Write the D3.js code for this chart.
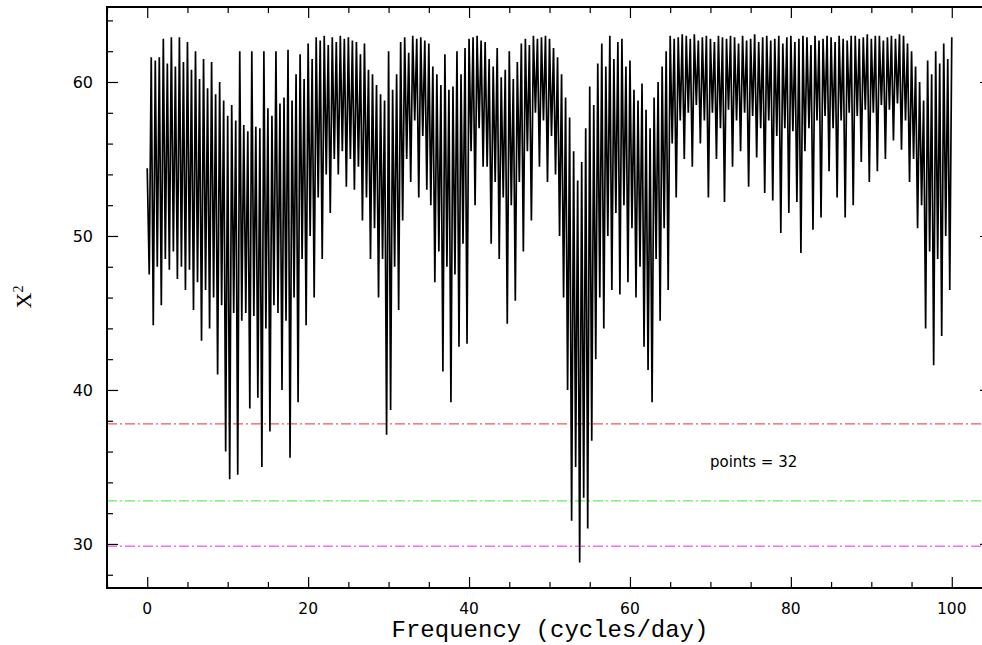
<!DOCTYPE html>
<html><head><meta charset="utf-8">
<script src="https://cdn.jsdelivr.net/npm/d3@7"></script>
<style>body{margin:0;background:#fff}svg{display:block}</style>
</head><body>
<script>
// Frequency grid start/step (cycles/day) and chi-square values
const freqStart = 0, freqStep = 0.25;
const chi2 = [
54.4,47.5,61.6,44.2, 61.4,48.0,61.6,45.5, 62.8,48.5,61.2,47.8, 62.9,49.0,61.0,47.2, 62.9,48.0,61.3,46.5,
62.6,47.8,60.8,45.2, 62.0,47.0,60.2,43.2, 61.5,46.5,59.6,44.0, 61.3,46.0,59.2,41.0, 60.0,45.5,58.8,36.0,
57.8,34.2,58.5,45.0, 57.5,34.5,62.0,44.5, 57.2,45.0,56.8,38.8, 62.0,44.8,57.1,39.5, 57.0,35.0,62.0,44.0,
58.3,37.3,57.8,45.5, 62.0,45.0,58.6,40.0, 59.0,44.5,62.1,35.6, 58.8,46.0,60.5,39.2, 61.8,48.5,60.2,44.2,
62.5,50.0,61.5,46.0, 62.9,52.5,62.7,48.5, 63.0,54.0,62.4,51.5, 62.9,55.0,62.6,54.0, 63.0,55.5,62.8,53.2,
62.9,55.0,62.7,53.0, 62.6,54.5,61.8,51.0, 62.5,52.5,60.8,48.5, 60.5,50.5,59.8,46.0, 59.2,48.5,58.8,37.1,
62.0,38.7,59.5,48.0, 60.5,45.2,62.6,51.0, 62.9,55.0,61.9,53.5, 63.0,57.5,62.8,52.5, 62.9,56.5,62.7,53.0,
62.5,52.0,61.0,47.0, 60.5,49.0,59.8,41.2, 61.8,48.0,59.5,39.2, 59.7,47.5,62.0,42.8, 60.5,49.5,62.2,43.0,
62.8,55.5,62.9,52.0, 63.0,57.0,62.7,54.5, 62.6,54.5,61.5,49.5, 61.0,53.5,62.2,48.5, 60.3,52.5,60.8,44.3,
62.0,52.0,60.2,45.8, 61.3,53.5,62.5,49.0, 62.8,55.5,62.4,51.0, 63.0,58.0,62.8,54.5, 62.9,57.5,63.0,53.5,
62.8,56.5,62.2,54.0, 61.6,50.0,60.5,46.0, 59.0,40.0,57.7,31.5, 55.5,35.0,53.6,28.8, 54.8,33.0,57.0,31.0,
59.7,36.7,58.5,42.0, 61.2,46.0,62.5,44.0, 61.0,50.0,63.0,46.5, 61.5,51.5,62.6,46.2, 62.8,52.0,61.0,47.0,
61.4,50.5,59.5,46.0, 58.8,48.0,59.9,42.8, 58.2,41.3,57.0,39.2, 59.0,48.5,60.0,44.5, 61.0,50.5,62.0,46.5,
63.0,56.0,62.8,52.5, 62.9,57.5,63.1,55.0, 63.0,58.0,62.8,54.5, 63.1,58.5,62.7,56.0, 62.9,57.5,63.0,52.5,
62.8,58.0,62.6,55.0, 63.0,57.0,62.9,52.2, 62.8,58.2,63.0,54.5, 62.9,57.5,62.5,55.5, 63.0,58.0,62.7,53.2,
62.8,57.8,63.1,55.1, 62.6,57.0,62.9,52.8, 63.0,57.5,62.7,52.3, 62.8,56.5,63.0,50.2, 62.5,57.0,62.9,51.5,
63.0,56.8,62.6,52.2, 62.8,48.9,63.0,55.5, 62.9,57.0,62.4,50.4, 63.0,57.5,62.7,51.2, 62.8,57.8,63.0,54.2,
62.9,57.0,62.6,52.5, 63.0,57.5,62.8,51.2, 62.7,58.0,63.0,52.0, 63.0,57.8,62.8,54.8, 62.9,58.2,63.1,53.5,
62.8,58.0,63.0,54.2, 63.0,58.5,62.7,55.0, 62.9,58.2,63.0,56.2, 62.8,58.6,63.1,55.6, 63.0,57.5,62.5,53.5,
62.0,55.0,61.0,50.5, 60.0,52.0,58.8,44.0, 61.4,49.0,60.5,41.6, 62.0,48.5,61.2,43.5, 62.5,50.0,61.5,46.5,
62.9
];
// Significance threshold levels (red, green, magenta)
const thresholds = [37.8, 32.8, 29.85];
const thresholdColors = ["#f05858", "#60f060", "#f070f0"];
const xTicksMajor = [0, 20, 40, 60, 80, 100];
const yTicksMajor = [30, 40, 50, 60];
const xLabel = "Frequency (cycles/day)";
const note = "points = 32";

const W = 982, H = 645;
const x = d3.scaleLinear().domain([-5, 105]).range([107, 992]);
const y = d3.scaleLinear().domain([27.14, 64.87]).range([588, 7]);
const data = chi2.map((v, i) => ({f: freqStart + i * freqStep, v}));

const svg = d3.select("body").append("svg").attr("width", W).attr("height", H);
const sans = "DejaVu Sans, Verdana, sans-serif";

// threshold lines
svg.selectAll("line.thr").data(thresholds).join("line").attr("class", "thr")
  .attr("x1", 107).attr("x2", W).attr("y1", d => y(d)).attr("y2", d => y(d))
  .attr("stroke", (d, i) => thresholdColors[i]).attr("stroke-width", 1.3)
  .attr("stroke-dasharray", "10,3,2,3");

// curve
svg.append("path").datum(data)
  .attr("d", d3.line().x(d => x(d.f)).y(d => y(d.v)))
  .attr("fill", "none").attr("stroke", "#000").attr("stroke-width", 1.7)
  .attr("stroke-linejoin", "miter").attr("stroke-miterlimit", 2);

// frame
const frame = svg.append("g").attr("stroke", "#000").attr("stroke-width", 2);
frame.append("line").attr("x1", 107).attr("x2", 107).attr("y1", 7).attr("y2", 588);
frame.append("line").attr("x1", 106).attr("x2", W).attr("y1", 7).attr("y2", 7);
frame.append("line").attr("x1", 106).attr("x2", W).attr("y1", 588).attr("y2", 588);
frame.append("line").attr("x1", 991).attr("x2", 991).attr("y1", 7).attr("y2", 588);

// ticks (inward) via d3 axes
const xMinor = d3.range(-5, 106, 5);
const yMinor = d3.range(28, 65, 2);
function tickLen(isMajor) { return isMajor ? 11 : 6; }
const xb = svg.append("g").attr("transform", "translate(0,588)")
  .call(d3.axisTop(x).tickValues(xMinor).tickSize(6).tickFormat(""));
const xt = svg.append("g").attr("transform", "translate(0,7)")
  .call(d3.axisBottom(x).tickValues(xMinor).tickSize(6).tickFormat(""));
const yl = svg.append("g").attr("transform", "translate(107,0)")
  .call(d3.axisRight(y).tickValues(yMinor).tickSize(6).tickFormat(""));
const yr = svg.append("g").attr("transform", "translate(991,0)")
  .call(d3.axisLeft(y).tickValues(yMinor).tickSize(6).tickFormat(""));
[xb, xt, yl, yr].forEach(g => { g.select(".domain").remove(); g.selectAll("line").attr("stroke", "#000").attr("stroke-width", 1.2); });
xb.selectAll(".tick line").attr("y2", d => -tickLen(d % 20 === 0));
xt.selectAll(".tick line").attr("y2", d => tickLen(d % 20 === 0));
yl.selectAll(".tick line").attr("x2", d => tickLen(d % 10 === 0));
yr.selectAll(".tick line").attr("x2", d => -tickLen(d % 10 === 0));

// tick labels
svg.selectAll("text.xl").data(xTicksMajor).join("text").attr("class", "xl")
  .attr("x", d => x(d)).attr("y", 614).attr("text-anchor", "middle")
  .attr("font-family", sans).attr("font-size", 15.5)
  .text(d => d);
svg.selectAll("text.yl").data(yTicksMajor).join("text").attr("class", "yl")
  .attr("x", 93).attr("y", d => y(d) + 6).attr("text-anchor", "end")
  .attr("font-family", sans).attr("font-size", 16)
  .text(d => d);

// axis titles
svg.append("text").attr("x", 550).attr("y", 637).attr("text-anchor", "middle")
  .attr("font-family", "Liberation Mono, Courier New, monospace").attr("font-size", 24)
  .text(xLabel);
const yt = svg.append("text").attr("transform", "translate(31,297) rotate(-90)").attr("text-anchor", "middle")
  .attr("font-family", "Liberation Serif, Times New Roman, serif").attr("font-size", 22);
yt.append("tspan").text("X");
yt.append("tspan").attr("font-size", 14).attr("dy", -8).text("2");
svg.append("text").attr("x", 710).attr("y", 467)
  .attr("font-family", sans).attr("font-size", 15)
  .text(note);
</script>
</body></html>
